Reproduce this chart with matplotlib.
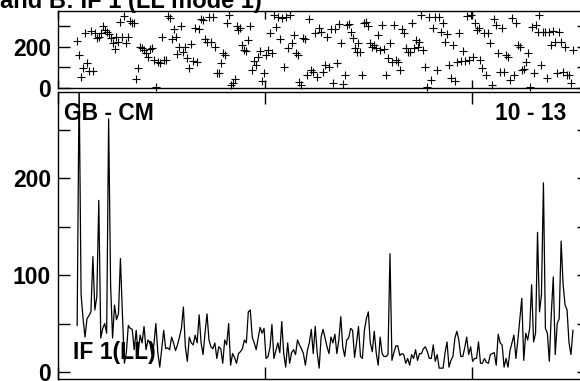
import numpy as np
import matplotlib
matplotlib.use("Agg")
import matplotlib.pyplot as plt
from matplotlib.ticker import MultipleLocator, FixedLocator

plt.rcParams['font.family'] = ['Liberation Sans', 'DejaVu Sans']
plt.rcParams['font.weight'] = 'bold'

# sample times (hours), shared by both panels
t_start, t_end = 0.37, 9.95

# lower panel: amplitude
amplitude = [48, 300, 80, 55, 36, 55, 58, 62, 119, 64, 78, 177, 35, 45, 50, 40, 261, 90, 35, 69,
             54, 60, 117, 60, 9,
             20, 48, 45, 44, 23, 43, 19, 38, 30, 47, 23, 33, 30, 18, 28, 50, 20, 5, 24, 43,
             24, 25, 23, 36, 30, 22, 28, 36, 45, 67, 26, 11, 36, 30, 28, 38, 30, 59, 30, 18,
             40, 60, 33, 26, 24, 30, 14,
             26, 24, 9, 33, 28, 50, 7, 19, 15, 9, 19, 21, 24, 33, 30, 62, 64, 36, 30, 23,
             35, 46, 40, 45, 14, 16, 25, 49, 14, 22, 30, 20, 52, 19, 5, 30,
             9, 20, 23, 18, 33, 28, 24, 19, 7, 22, 30, 44, 19, 47, 20, 4, 36, 44, 35, 26,
             19, 36, 30, 39, 19, 33, 57, 26, 16, 33, 35, 45, 43, 15, 30, 47, 16, 14, 43, 55,
             62, 30, 21, 42, 20, 7, 36, 19, 16, 16,
             18, 122, 12, 20, 27, 27, 17, 19, 18, 9, 14, 7, 18, 14, 23, 12, 19, 19, 24, 26,
             21, 14, 14, 28, 11, 18, 4, 4, 4, 20, 31, 5, 12, 16, 35, 42, 33, 16, 16, 25,
             36, 18, 26, 11, 14, 14, 31, 9, 9, 14, 10, 9, 18, 19, 20, 7, 39, 30, 28, 5,
             14, 5, 22, 30, 38, 14, 33, 55, 76, 12, 40, 33, 45, 90, 31, 40, 144, 62, 80, 195,
             45, 40, 11, 60, 98, 18, 50, 55, 135, 90, 69, 64, 30, 18, 43]

# upper panel: phase (degrees)
phase = [229, 159, 52, 95, 264, 119, 82, 277, 84, 264, 240, 248, 267, 300, 280, 269, 261, 240, 219, 187,
         248, 224, 317, 245, 348, 216, 248, 325, 316, 316, 42, 97, 200, 192, 184, 171, 151, 187, 195, 135,
         3, 127, 119, 245, 135, 135, 348, 337, 235, 283, 245, 164, 196, 300, 176, 200, 143, 95, 211, 132,
         288, 127, 283, 332, 328, 235, 224, 341, 224, 341, 200, 74, 71, 119, 167, 159, 312, 353, 14, 23,
         42, 300, 280, 288, 208, 184, 180, 232, 300, 87, 130, 111, 151, 179, 34, 74, 159, 184, 264, 171,
         353, 296, 345, 235, 337, 103, 341, 192, 353, 216, 256, 167, 159, 31,
         14, 240, 235, 63, 332, 87, 79, 264, 55, 288, 272, 79, 111, 248, 103, 283, 23, 283, 119, 309,
         219, 19, 63, 304, 309, 272, 240, 192, 176, 219, 172, 63, 312, 320, 300, 216, 200, 208, 195, 256,
         184, 304, 187, 63, 143, 219, 127, 304, 135, 127, 87, 283, 264, 192, 176, 176, 312, 192, 232, 200,
         224, 353, 184, 103, 3, 345, 39, 288, 345, 87, 341, 272, 316, 224, 261, 111, 47, 208, 35, 127,
         264, 130, 180, 132, 348, 135, 353, 148, 312, 280, 288, 135, 95, 264, 63, 264, 219, 14, 332, 304,
         167, 79, 288, 79, 159, 148, 39, 337, 63, 312, 208, 200, 87, 92, 127, 167, 3, 296, 71, 304,
         272, 353, 111, 272, 272, 47, 272, 208, 277, 224, 74, 272, 224, 79, 200, 63, 63, 23, 184]

title_text = "and B: IF 1 (LL mode 1)"
baseline_label = "GB - CM"
channel_label = "10 - 13"
if_label = "IF 1(LL)"

t = np.linspace(t_start, t_end, len(amplitude))

fig = plt.figure(figsize=(5.8, 3.81), dpi=100)
ax_ph = fig.add_axes([0.1, 0.769, 0.9155, 0.202])
ax_amp = fig.add_axes([0.1, 0.00525, 0.9155, 0.7533])

# phase panel
ax_ph.plot(t, phase, '+', color='black', ms=6, mew=0.8, clip_on=False)
ax_ph.set_xlim(0, 10.26)
ax_ph.set_ylim(0, 372)
ax_ph.yaxis.set_major_locator(FixedLocator([0, 200]))
ax_ph.yaxis.set_minor_locator(FixedLocator([100, 300]))
ax_ph.xaxis.set_major_locator(MultipleLocator(4))
ax_ph.tick_params(axis='y', which='both', direction='in', length=8.6, width=1,
                  right=True, labelsize=16.5, pad=5)
ax_ph.tick_params(axis='x', direction='in', length=5.5, width=1, top=True, labelbottom=False)

# amplitude panel
ax_amp.plot(t, amplitude, color='black', lw=0.9)
ax_amp.set_xlim(0, 10.26)
ax_amp.set_ylim(-7.2, 288.7)
ax_amp.yaxis.set_major_locator(FixedLocator([0, 100, 200]))
ax_amp.yaxis.set_minor_locator(FixedLocator([50, 150, 250]))
ax_amp.xaxis.set_major_locator(MultipleLocator(4))
ax_amp.tick_params(axis='y', which='both', direction='in', length=8.6, width=1,
                   right=True, labelsize=16.5, pad=5)
ax_amp.tick_params(axis='x', direction='in', length=8.5, width=1, top=True, labelbottom=False)

for ax in (ax_ph, ax_amp):
    for sp in ax.spines.values():
        sp.set_linewidth(1.0)

fig.text(0.0, 1 - 8 / 381, title_text, fontsize=17, fontweight='bold', va='baseline', ha='left')
fig.text(64 / 580, 1 - 120 / 381, baseline_label, fontsize=16.5, fontweight='bold', va='baseline')
fig.text(566 / 580, 1 - 119.5 / 381, channel_label, fontsize=16.5, fontweight='bold',
         va='baseline', ha='right')
fig.text(73 / 580, 1 - 359 / 381, if_label, fontsize=16.5, fontweight='bold', va='baseline')

fig.savefig("out.png", dpi=100)
